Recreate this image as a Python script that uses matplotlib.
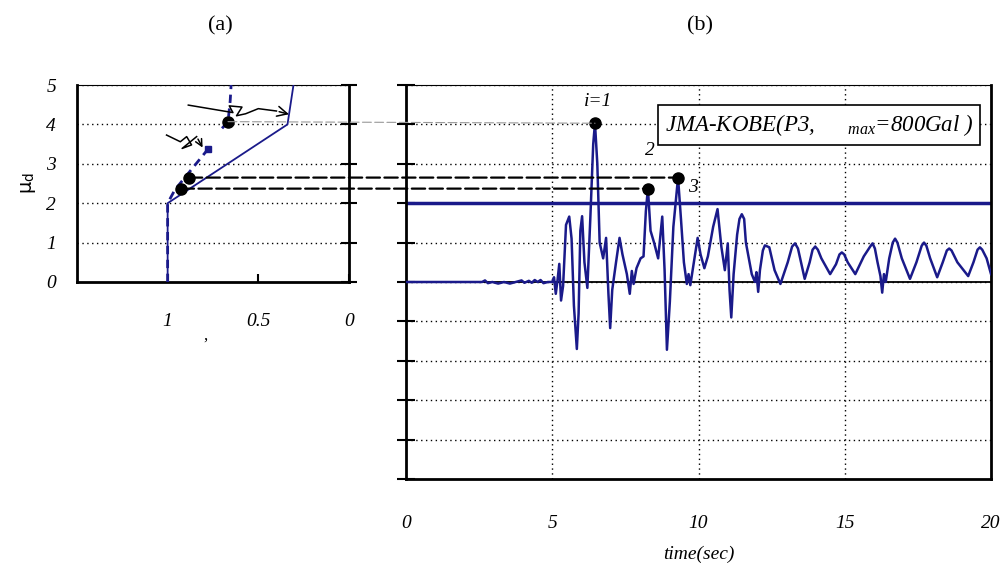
import matplotlib
matplotlib.use("Agg")
import matplotlib.pyplot as plt
from matplotlib.patches import ConnectionPatch

# -----------------------------------------------------------------------------
# Datos
# -----------------------------------------------------------------------------
# (a) curva de ductilidad
a_solid_x = [1.0, 1.0, 0.339, 0.306]
a_solid_y = [0.0, 2.0, 4.0, 5.0]
a_dash_low_x = [1.0, 1.0, 0.96, 0.776]
a_dash_low_y = [0.0, 2.0, 2.34, 3.38]
a_dash_top_x = [0.70, 0.667, 0.655, 0.65]
a_dash_top_y = [3.90, 4.07, 4.60, 5.0]
a_dots_x = [0.667, 0.928, 0.883]
a_dots_y = [4.07, 2.37, 2.65]

# flechas dibujadas a mano en (a)
arrow1_x = [0.886, 0.64, 0.66, 0.59, 0.62, 0.57, 0.50, 0.40, 0.316]
arrow1_y = [4.49, 4.30, 4.47, 4.44, 4.22, 4.27, 4.40, 4.34, 4.24]
arrow2_x = [1.006, 0.93, 0.895, 0.868, 0.92, 0.84, 0.80]
arrow2_y = [3.73, 3.56, 3.69, 3.48, 3.39, 3.69, 3.35]

# (b) respuesta en el tiempo
wave_t = [0.0, 2.60, 2.70, 2.80, 2.95, 3.15, 3.35, 3.55, 3.75, 3.95, 4.05, 4.20,
          4.30, 4.40, 4.50, 4.60, 4.70, 4.85, 5.00, 5.06, 5.12, 5.18, 5.24, 5.30,
          5.37, 5.47, 5.58, 5.66, 5.74, 5.84, 5.90, 5.96, 6.02, 6.10, 6.20, 6.30,
          6.40, 6.46, 6.54, 6.62, 6.74, 6.84, 6.92, 6.98, 7.05, 7.18, 7.30, 7.40,
          7.55, 7.65, 7.72, 7.78, 7.88, 8.02, 8.12, 8.20, 8.27, 8.36, 8.48, 8.62,
          8.76, 8.84, 8.92, 9.02, 9.14, 9.30, 9.40, 9.50, 9.60, 9.66, 9.72, 9.84,
          9.97, 10.07, 10.20, 10.32, 10.50, 10.65, 10.78, 10.90, 11.00, 11.06, 11.12, 11.20,
          11.32, 11.40, 11.48, 11.56, 11.62, 11.82, 11.93, 11.98, 12.04, 12.10, 12.20, 12.27,
          12.42, 12.60, 12.80, 13.05, 13.20, 13.30, 13.40, 13.63, 13.80, 13.90, 13.99, 14.08,
          14.20, 14.50, 14.70, 14.82, 14.90, 14.98, 15.10, 15.36, 15.65, 15.87, 15.95, 16.03,
          16.12, 16.22, 16.28, 16.34, 16.40, 16.52, 16.64, 16.72, 16.80, 16.95, 17.23, 17.45,
          17.63, 17.71, 17.79, 17.92, 18.16, 18.35, 18.49, 18.57, 18.65, 18.85, 19.22, 19.40,
          19.54, 19.62, 19.70, 19.85, 20.0]
wave_v = [0.0, 0.0, 0.04, -0.03, 0.0, -0.04, 0.0, -0.04, 0.0, 0.04, -0.02, 0.03,
          -0.02, 0.05, 0.0, 0.05, -0.03, 0.0, 0.0, 0.12, -0.30, 0.05, 0.46, -0.47,
          -0.10, 1.45, 1.66, 1.10, -0.60, -1.70, -0.80, 1.30, 1.67, 0.50, -0.15, 1.60,
          3.50, 4.03, 3.00, 1.00, 0.60, 1.12, -0.30, -1.17, -0.20, 0.50, 1.12, 0.70,
          0.20, -0.30, 0.28, -0.05, 0.35, 0.60, 0.65, 1.80, 2.37, 1.30, 1.00, 0.60,
          1.66, 0.30, -1.72, -0.50, 1.40, 2.65, 1.60, 0.50, -0.05, 0.20, -0.08, 0.50,
          1.12, 0.70, 0.35, 0.65, 1.40, 1.85, 0.90, 0.30, 0.98, -0.20, -0.90, 0.20,
          1.20, 1.60, 1.72, 1.60, 1.00, 0.20, 0.00, 0.25, -0.25, 0.30, 0.80, 0.93,
          0.88, 0.30, -0.05, 0.50, 0.90, 0.98, 0.85, 0.08, 0.50, 0.82, 0.90, 0.82,
          0.60, 0.20, 0.45, 0.70, 0.75, 0.70, 0.50, 0.20, 0.65, 0.90, 0.98, 0.85,
          0.50, 0.15, -0.27, 0.20, 0.00, 0.60, 1.00, 1.10, 1.00, 0.60, 0.08, 0.50,
          0.92, 1.00, 0.92, 0.60, 0.12, 0.50, 0.80, 0.85, 0.80, 0.50, 0.15, 0.50,
          0.82, 0.88, 0.82, 0.60, 0.20]

peak_t = [6.46, 8.27, 9.30]
peak_v = [4.03, 2.37, 2.65]
peak_labels = ["i=1", "2", "3"]
peak_label_pos = [(6.56, 4.57), (8.34, 3.35), (9.81, 2.41)]

a_xticks = [1, 0.5, 0]
a_xticklabels = ["1", "0.5", "0"]
b_xticks = [0, 5, 10, 15, 20]

# -----------------------------------------------------------------------------
# Estilo
# -----------------------------------------------------------------------------
plt.rcParams["font.family"] = ["Liberation Serif", "DejaVu Serif"]
plt.rcParams["mathtext.fontset"] = "custom"
plt.rcParams["mathtext.rm"] = "Liberation Serif"
plt.rcParams["mathtext.it"] = "Liberation Serif:italic"
plt.rcParams["mathtext.sf"] = "DejaVu Sans"

NAVY = "#1a1a8a"
GRID = dict(color="black", linestyle=(0, (1, 2.5)), linewidth=1.0)

fig = plt.figure(figsize=(10.06, 5.69), dpi=100)
ax_b = fig.add_axes([0.4036, 0.1582, 0.5815, 0.6924])
ax_a = fig.add_axes([0.0765, 0.5044, 0.2704, 0.3462])

# ---- panel (a) --------------------------------------------------------------
ax_a.set_xlim(1.5, 0)
ax_a.set_ylim(0, 5)
for y in range(1, 6):
    ax_a.axhline(y, **GRID, zorder=1)
ax_a.plot(a_solid_x, a_solid_y, color=NAVY, lw=1.3, zorder=3)
ax_a.plot(a_dash_low_x, a_dash_low_y, color=NAVY, lw=2.0, dashes=(3, 2), zorder=3)
ax_a.plot(a_dash_low_x[-1:], a_dash_low_y[-1:], "s", color=NAVY, ms=5, zorder=4)
ax_a.plot(a_dash_top_x, a_dash_top_y, color=NAVY, lw=2.0, dashes=(3, 2), zorder=3)
ax_a.plot(a_dots_x, a_dots_y, "o", color="black", ms=8, zorder=5)

ax_a.plot(arrow1_x[:-1], arrow1_y[:-1], color="black", lw=1.1, zorder=4)
ax_a.annotate("", xy=(arrow1_x[-1], arrow1_y[-1]), xytext=(arrow1_x[-2], arrow1_y[-2]),
              arrowprops=dict(arrowstyle="->", color="black", lw=1.1, mutation_scale=18))
ax_a.plot(arrow2_x[:-1], arrow2_y[:-1], color="black", lw=1.1, zorder=4)
ax_a.annotate("", xy=(arrow2_x[-1], arrow2_y[-1]), xytext=(arrow2_x[-2], arrow2_y[-2]),
              arrowprops=dict(arrowstyle="->", color="black", lw=1.1, mutation_scale=12))

ax_a.set_xticks(a_xticks)
ax_a.set_xticklabels(a_xticklabels, fontstyle="italic", fontsize=14)
ax_a.set_yticks(range(0, 6))
ax_a.set_yticklabels([str(i) for i in range(0, 6)], fontstyle="italic", fontsize=14)
ax_a.tick_params(axis="x", direction="in", length=6, width=1.5, pad=22)
ax_a.tick_params(axis="y", left=False, right=True, direction="inout", length=12,
                 width=1.5, pad=9)
for s in ["left", "right", "bottom"]:
    ax_a.spines[s].set_linewidth(2)
ax_a.spines["top"].set_linewidth(0.8)
ax_a.set_ylabel(r"μ$_\mathsf{d}$", family=["DejaVu Sans"], fontsize=14, labelpad=6)
fig.text(0.204, 0.41, ",", fontsize=12, ha="center", va="center")

# ---- panel (b) --------------------------------------------------------------
ax_b.set_xlim(0, 20)
ax_b.set_ylim(-5, 5)
for x in [5, 10, 15]:
    ax_b.axvline(x, **GRID, zorder=1)
for y in range(-4, 6):
    ax_b.axhline(y, **GRID, zorder=1)
ax_b.axhline(0, color="black", lw=1.3, zorder=2)
ax_b.axhline(2, color=NAVY, lw=2.5, zorder=2)
ax_b.plot(wave_t, wave_v, color=NAVY, lw=1.8, zorder=3)
ax_b.plot(peak_t, peak_v, "o", color="black", ms=8, zorder=5)
for lab, (tx, ty) in zip(peak_labels, peak_label_pos):
    ax_b.text(tx, ty, lab, fontstyle="italic", fontsize=14, ha="center", va="center")

ax_b.text(0.442, 0.898, r"JMA-KOBE(P3,$\quad\quad{}_{max}$=800Gal )", transform=ax_b.transAxes,
          fontstyle="italic", fontsize=16.5, va="center", ha="left", zorder=6,
          bbox=dict(boxstyle="square,pad=0.3", fc="white", ec="black", lw=1.2))

ax_b.set_xticks(b_xticks)
ax_b.set_xticklabels([str(v) for v in b_xticks], fontstyle="italic", fontsize=14)
ax_b.set_yticks(range(-5, 6))
ax_b.set_yticklabels([])
ax_b.tick_params(axis="x", length=0, pad=26)
ax_b.tick_params(axis="y", direction="inout", length=13, width=1.5)
for s in ["left", "right", "bottom"]:
    ax_b.spines[s].set_linewidth(2)
ax_b.spines["top"].set_linewidth(0.8)
ax_b.set_xlabel("time(sec)", fontstyle="italic", fontsize=14, labelpad=10)

# ---- lineas de union entre paneles -------------------------------------------
con1 = ConnectionPatch(xyA=(a_dots_x[1], a_dots_y[1]), coordsA=ax_a.transData,
                       xyB=(peak_t[1], peak_v[1]), coordsB=ax_b.transData,
                       color="black", lw=1.6, linestyle=(0, (6, 2)), zorder=4)
con2 = ConnectionPatch(xyA=(a_dots_x[2], a_dots_y[2]), coordsA=ax_a.transData,
                       xyB=(peak_t[2], peak_v[2]), coordsB=ax_b.transData,
                       color="black", lw=1.6, linestyle=(0, (6, 2)), zorder=4)
con3 = ConnectionPatch(xyA=(a_dots_x[0], a_dots_y[0]), coordsA=ax_a.transData,
                       xyB=(peak_t[0], peak_v[0]), coordsB=ax_b.transData,
                       color="#999999", lw=0.8, linestyle=(0, (8, 3)), zorder=4)
for c in (con1, con2, con3):
    fig.add_artist(c)

fig.text(0.219, 0.955, "(a)", fontsize=16, ha="center", va="center")
fig.text(0.696, 0.955, "(b)", fontsize=16, ha="center", va="center")

fig.savefig("out.png", dpi=100)
